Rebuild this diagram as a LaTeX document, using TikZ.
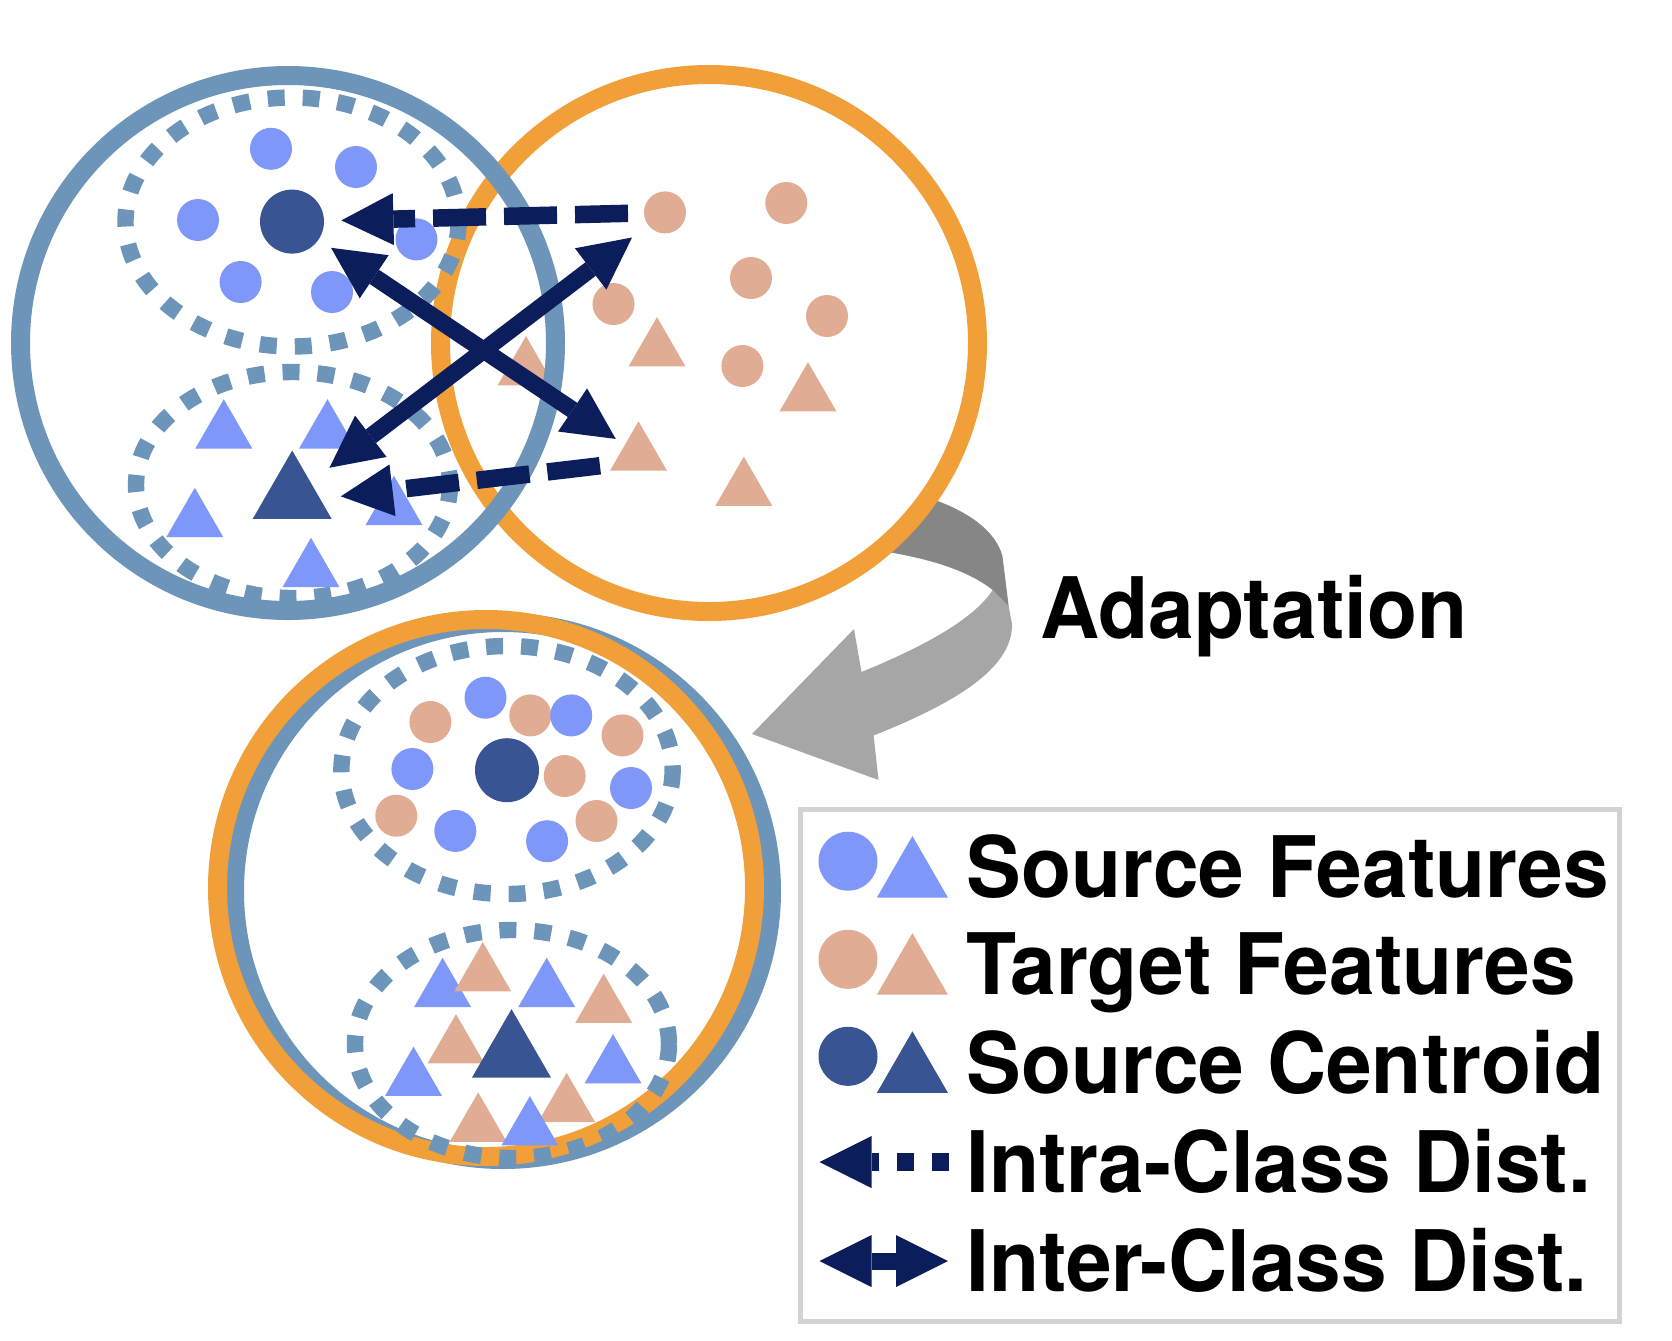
\documentclass[tikz,border=0pt]{standalone}
\usepackage{fontspec}
\setmainfont{TeX Gyre Heros}
\usetikzlibrary{shapes.geometric,arrows.meta}
\definecolor{srcblue}{HTML}{7E97F8}
\definecolor{srcdark}{HTML}{385492}
\definecolor{tgt}{HTML}{E1AC94}
\definecolor{orng}{HTML}{F19F38}
\definecolor{bluering}{HTML}{6D95BA}
\definecolor{navy}{HTML}{0B1E5B}
\definecolor{gdark}{HTML}{868686}
\definecolor{glight}{HTML}{A6A6A6}
\definecolor{lgd}{HTML}{D3D3D3}
\newcommand{\tallish}[1]{\scalebox{1}[1.035]{#1}}
\begin{document}
\begin{tikzpicture}[x=0.5pt,y=-0.5pt,
  >={Triangle[length=26pt,width=26pt,line width=0pt]},
  dotc/.style={circle,inner sep=0pt,minimum size=21pt,draw=none},
  sdot/.style={dotc,fill=srcblue},
  tdot/.style={dotc,fill=tgt},
  cdot/.style={circle,inner sep=0pt,minimum size=32pt,fill=srcdark},
  tri/.style={regular polygon,regular polygon sides=3,inner sep=0pt,minimum size=32.9pt},
  stri/.style={tri,fill=srcblue},
  ttri/.style={tri,fill=tgt},
  ctri/.style={regular polygon,regular polygon sides=3,inner sep=0pt,minimum size=45.6pt,fill=srcdark},
  ring/.style={line width=9.5pt},
  cluster/.style={draw=bluering,line width=8.2pt,dash pattern=on 8.5pt off 9pt},
  darrow/.style={draw=navy,line width=8.75pt,->,dash pattern=on 26.5pt off 9pt},
  sarrow/.style={draw=navy,line width=8.5pt,<->},
  lbl/.style={font=\fontsize{41}{49}\selectfont\bfseries,inner sep=0pt,anchor=base west},
  lcirc/.style={circle,inner sep=0pt,minimum size=29.5pt},
  ltri/.style={regular polygon,regular polygon sides=3,inner sep=0pt,minimum size=41pt}
]
\useasboundingbox (0,0) rectangle (1672,1340);

% adaptation arrow (behind the orange circle)
\fill[gdark] (932,499) .. controls (970,512) and (996,532) .. (1002.4,556)
  -- (1008.8,607) -- (992.7,590) .. controls (970,572) and (935,560) .. (888,552) -- cycle;
\fill[glight] (992.7,590) -- (1008.8,607) -- (1012,624)
  .. controls (1013,670) and (950,705) .. (873.6,735.5)
  -- (878.5,780) -- (752,734) -- (854,629) -- (861.5,672)
  .. controls (915,650) and (972,622) .. (992.7,590) -- cycle;

% ---------- top: target domain ----------
\draw[orng,ring] (709,343) circle[radius=268.5];
\node[tdot] (t1) at (665,212.4) {};
\node[tdot] (t2) at (786.3,203) {};
\node[tdot] (t3) at (751,278) {};
\node[tdot] (t4) at (827,316) {};
\node[tdot] (t5) at (613.5,304) {};
\node[tdot] (t6) at (742.4,366) {};
\node[ttri] (tt1) at (657,350) {};
\node[ttri] (tt2) at (808,395) {};
\node[ttri] (tt3) at (638.5,454.2) {};
\node[ttri] (tt4) at (743.8,489.5) {};
\node[ttri] (tt5) at (526,369) {};

% ---------- top: source domain ----------
\draw[bluering,ring] (288,343) circle[radius=267.5];
\draw[cluster] (292,222) ellipse[x radius=166.5,y radius=124.5];
\draw[cluster] (293,485) ellipse[x radius=157,y radius=113];
\node[sdot] (s1) at (271,148.8) {};
\node[sdot] (s2) at (356,167) {};
\node[sdot] (s3) at (198,220) {};
\node[sdot] (s4) at (416.5,239.4) {};
\node[sdot] (s5) at (240.6,282) {};
\node[sdot] (s6) at (332,292) {};
\node[cdot] (sc1) at (292,221.6) {};
\node[stri] (st1) at (223.8,432.1) {};
\node[stri] (st2) at (327.5,432.1) {};
\node[stri] (st3) at (194.8,520.7) {};
\node[stri] (st4) at (394,508.7) {};
\node[stri] (st5) at (311,570.7) {};
\node[ctri] (ct1) at (292.2,496.1) {};

% arrows
\draw[sarrow,shorten <=23.5pt,shorten >=13.7pt] (sc1.center) -- (tt3.center);
\draw[sarrow,shorten <=23.4pt,shorten >=20.7pt] (ct1.center) -- (t1.center);
\draw[darrow,shorten <=18.5pt,shorten >=24.7pt] (t1.center) -- (sc1.center);
\draw[darrow,shorten <=19.4pt,shorten >=24.5pt] ([yshift=-3.5pt]tt3.center) -- ([yshift=-3pt]ct1.center);

% ---------- bottom: adapted ----------
\draw[bluering,ring] (503,891) circle[radius=268.5];
\draw[orng,ring] (486,888) circle[radius=268.5];
\draw[cluster] (507,770) ellipse[x radius=165.6,y radius=124];
\draw[cluster] (512,1044) ellipse[x radius=157,y radius=114];
\node[tdot] (b1) at (430.4,722) {};
\node[tdot] (b2) at (530.3,715.4) {};
\node[tdot] (b3) at (622.5,735.4) {};
\node[tdot] (b4) at (564.7,776) {};
\node[tdot] (b5) at (396.3,815.7) {};
\node[tdot] (b6) at (596.5,821) {};
\node[sdot] (a1) at (485.5,697.7) {};
\node[sdot] (a2) at (571.2,715.4) {};
\node[sdot] (a3) at (412.4,769) {};
\node[sdot] (a4) at (631,788) {};
\node[sdot] (a5) at (455.3,830.9) {};
\node[sdot] (a6) at (547.1,841.2) {};
\node[cdot] (sc2) at (507,770.2) {};
\node[stri] (bs1) at (442.6,990.6) {};
\node[stri] (bs2) at (546.7,990.6) {};
\node[stri] (bs3) at (413.5,1079.5) {};
\node[stri] (bs4) at (613,1067) {};
\node[ttri] (bt1) at (482.8,975) {};
\node[ttri] (bt2) at (603.7,1006.5) {};
\node[ttri] (bt3) at (456,1047) {};
\node[ttri] (bt4) at (566.6,1105.6) {};
\node[ttri] (bt5) at (478.2,1125.3) {};
\node[stri] (bs5) at (529.9,1129) {};
\node[ctri] (ct2) at (511.5,1054.7) {};

% label
\node[lbl] (adapt) at (1040,638) {\tallish{Adaptation}};

% ---------- legend ----------
\draw[lgd,line width=2.5pt] (800,809) rectangle (1619.5,1321);
\node[lcirc,fill=srcblue] (lc1) at (848,861.2) {};
\node[ltri,fill=srcblue] (lt1) at (912.4,877) {};
\node[lbl] (lx1) at (966,897.4) {\tallish{Source Features}};
\node[lcirc,fill=tgt] (lc2) at (848,959.3) {};
\node[ltri,fill=tgt] (lt2) at (912.4,974.1) {};
\node[lbl] (lx2) at (966,994.4) {\tallish{Target Features}};
\node[lcirc,fill=srcdark] (lc3) at (848,1056.3) {};
\node[ltri,fill=srcdark] (lt3) at (912.4,1072.3) {};
\node[lbl] (lx3) at (966,1093) {\tallish{Source Centroid}};
\coordinate (l4a) at (949,1162);
\coordinate (l4b) at (819.5,1162);
\draw[navy,line width=8.75pt,->,dash pattern=on 8.5pt off 9pt] (l4a) -- (l4b);
\node[lbl] (lx4) at (966,1192.5) {\tallish{Intra-Class Dist.}};
\coordinate (l5a) at (819.5,1261);
\coordinate (l5b) at (948,1261);
\draw[navy,line width=8.5pt,<->] (l5a) -- (l5b);
\node[lbl] (lx5) at (966,1291.5) {\tallish{Inter-Class Dist.}};
\end{tikzpicture}
\end{document}
